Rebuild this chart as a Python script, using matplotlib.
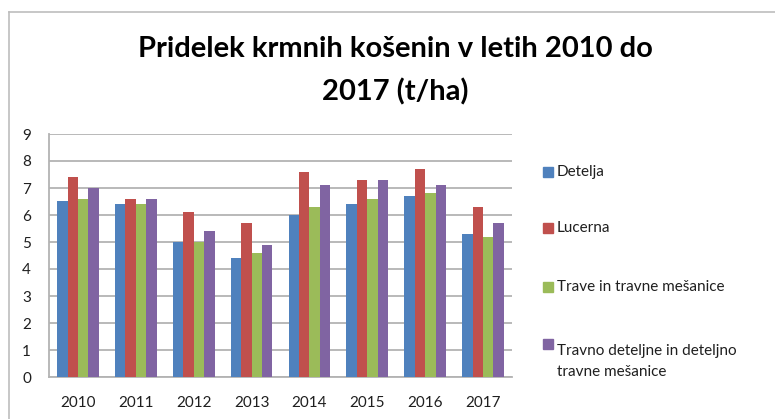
import matplotlib
matplotlib.use('Agg')
import matplotlib.pyplot as plt
import numpy as np
from matplotlib.patches import Rectangle
from matplotlib.lines import Line2D

plt.rcParams['font.family'] = ['Lato', 'DejaVu Sans']

years = ['2010', '2011', '2012', '2013', '2014', '2015', '2016', '2017']
series_names = ['Detelja', 'Lucerna', 'Trave in travne mešanice',
                'Travno deteljne in deteljno\ntravne mešanice']
detelja = [6.5, 6.4, 5.0, 4.4, 6.0, 6.4, 6.7, 5.3]
lucerna = [7.4, 6.6, 6.1, 5.7, 7.6, 7.3, 7.7, 6.3]
trave = [6.6, 6.4, 5.0, 4.6, 6.3, 6.6, 6.8, 5.2]
travno_deteljne = [7.0, 6.6, 5.4, 4.9, 7.1, 7.3, 7.1, 5.7]
y_ticks = [0, 1, 2, 3, 4, 5, 6, 7, 8, 9]
title_lines = ['Pridelek krmnih košenin v letih 2010 do', '2017 (t/ha)']

colors = ['#4F81BD', '#C0504D', '#9BBB59', '#8064A2']
grid_c = '#b3b3b3'
txt_c = '#1f1f1f'

fig = plt.figure(figsize=(7.75, 4.19), dpi=100)
ax = fig.add_axes([49/775, 42/419, 463/775, 243/419])

x = np.arange(len(years))
w = 0.18
all_series = [detelja, lucerna, trave, travno_deteljne]
for i, vals in enumerate(all_series):
    ax.bar(x + (i - 1.5) * w, vals, w, color=colors[i], zorder=3)

ax.set_xlim(-0.5, len(years) - 0.5)
ax.set_ylim(0, 9)
ax.set_yticks(y_ticks)
ax.set_xticks(x)
ax.set_xticklabels(years)
ax.yaxis.grid(True, color=grid_c, linewidth=1.3, zorder=0)
ax.set_axisbelow(True)
for s in ['top', 'right']:
    ax.spines[s].set_visible(False)
for s in ['left', 'bottom']:
    ax.spines[s].set_color(grid_c)
    ax.spines[s].set_linewidth(1.3)
ax.tick_params(axis='both', length=0, labelsize=11, colors=txt_c)
ax.tick_params(axis='y', pad=13)
ax.tick_params(axis='x', pad=14)

# title, one line at a time (baselines at 57 and 100 px from top)
for line, base in zip(title_lines, [57, 100]):
    fig.text(0.51, (419 - base) / 419, line, ha='center', va='baseline',
             fontsize=21, fontweight='bold', color='#000000')

# legend drawn by hand
leg_y = [172, 228, 287, 344]
for i, name in enumerate(series_names):
    yc = leg_y[i]
    fig.patches.append(Rectangle((543/775, (419 - yc - 5) / 419), 10/775, 10/419,
                                 transform=fig.transFigure, color=colors[i]))
    fig.text(557/775, (419 - yc) / 419, name, ha='left', va='top' if '\n' in name else 'center',
             fontsize=11, color=txt_c, linespacing=1.6)

# chart frame
fig.lines.append(Line2D([9/775, 9/775], [0, (419 - 12) / 419], transform=fig.transFigure,
                        color='#bdbdbd', linewidth=1.2))
fig.lines.append(Line2D([9/775, 1], [(419 - 12) / 419, (419 - 12) / 419],
                        transform=fig.transFigure, color='#bdbdbd', linewidth=1.2))

fig.savefig('out.png', dpi=100)
